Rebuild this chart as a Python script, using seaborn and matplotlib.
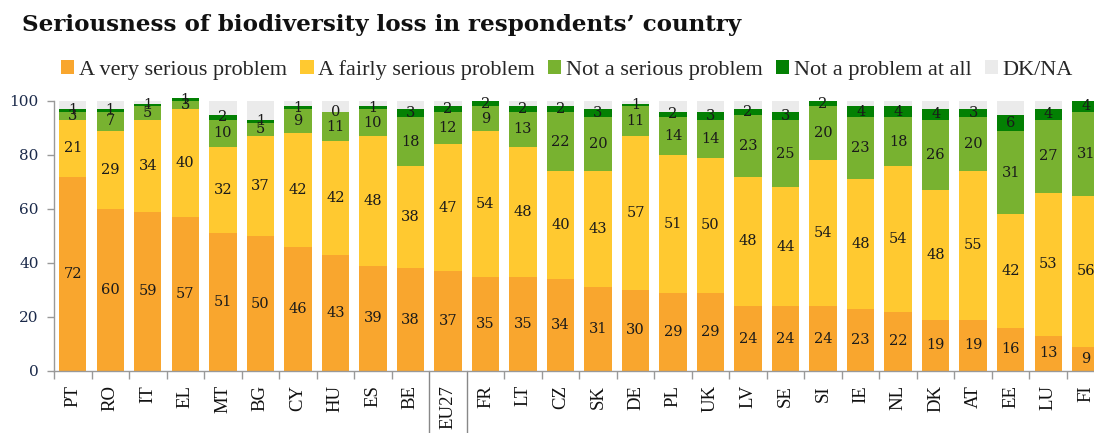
import matplotlib
matplotlib.use("Agg")
import matplotlib.pyplot as plt
from matplotlib.patches import Patch
import matplotlib.transforms as mtransforms
import seaborn as sns

countries = ["PT", "RO", "IT", "EL", "MT", "BG", "CY", "HU", "ES", "BE", "EU27",
             "FR", "LT", "CZ", "SK", "DE", "PL", "UK", "LV", "SE", "SI", "IE",
             "NL", "DK", "AT", "EE", "LU", "FI"]
very_serious = [72, 60, 59, 57, 51, 50, 46, 43, 39, 38, 37, 35, 35, 34, 31, 30,
                29, 29, 24, 24, 24, 23, 22, 19, 19, 16, 13, 9]
fairly_serious = [21, 29, 34, 40, 32, 37, 42, 42, 48, 38, 47, 54, 48, 40, 43, 57,
                  51, 50, 48, 44, 54, 48, 54, 48, 55, 42, 53, 56]
not_serious = [3, 7, 5, 3, 10, 5, 9, 11, 10, 18, 12, 9, 13, 22, 20, 11,
               14, 14, 23, 25, 20, 23, 18, 26, 20, 31, 27, 31]
not_at_all = [1, 1, 1, 1, 2, 1, 1, 0, 1, 3, 2, 2, 2, 2, 3, 1,
              2, 3, 2, 3, 2, 4, 4, 4, 3, 6, 4, 4]
dk_na = [3, 3, 1, 0, 5, 7, 2, 4, 2, 3, 2, 0, 2, 2, 3, 1,
         4, 4, 3, 4, 0, 2, 2, 3, 3, 5, 3, 0]

series_names = ["A very serious problem", "A fairly serious problem",
                "Not a serious problem", "Not a problem at all", "DK/NA"]
series_values = [very_serious, fairly_serious, not_serious, not_at_all, dk_na]
series_colors = ["#F9A62E", "#FFC930", "#78B230", "#038003", "#EBEBEB"]
y_ticks = [0, 20, 40, 60, 80, 100]

sns.set_style("white")
plt.rcParams["font.family"] = ["DejaVu Serif"]

W, H = 1094, 433
fig = plt.figure(figsize=(W / 100, H / 100), dpi=100)
ax = fig.add_axes([54 / W, 1 - 371 / H, 1050.5 / W, 270 / H])

# cumulative tops of each stacked layer
tops = []
running = [0] * len(countries)
for vals in series_values:
    running = [r + v for r, v in zip(running, vals)]
    tops.append(running)

# draw from the tallest stack down so each layer covers the one above it
for top, color in zip(reversed(tops), reversed(series_colors)):
    sns.barplot(x=countries, y=top, color=color, width=0.73, saturation=1,
                errorbar=None, linewidth=0, ax=ax, clip_on=False)

# value labels centred in every segment except DK/NA
for k in range(4):
    for i, v in enumerate(series_values[k]):
        base = tops[k][i] - v
        ax.text(i, base + v / 2, str(v), ha="center", va="center",
                fontsize=10.5, color="#1a1a1a", family="DejaVu Serif")

ax.set_xlim(-0.5, len(countries) - 0.5)
ax.set_ylim(0, 100)
ax.set_yticks(y_ticks)
ax.set_yticklabels([str(t) for t in y_ticks], fontsize=11, color="#1B2A4A")
ax.tick_params(axis="y", length=5, width=1, color="#999999", pad=6, left=True)

ax.set_xticks(range(len(countries)))
ax.set_xticklabels(countries, rotation=90, fontsize=13.5, color="#111111",
                   family="Liberation Serif")
ax.tick_params(axis="x", which="major", length=0, pad=10)
boundaries = [i - 0.5 for i in range(len(countries) + 1) if i not in (10, 11)]
ax.set_xticks(boundaries, minor=True)
ax.tick_params(axis="x", which="minor", length=6, width=1, color="#999999",
               bottom=True)
ax.set_xlabel("")
ax.set_ylabel("")

for side in ("top", "right"):
    ax.spines[side].set_visible(False)
for side in ("left", "bottom"):
    ax.spines[side].set_color("#999999")
    ax.spines[side].set_linewidth(1)

# separators framing the EU27 bar below the axis
trans = mtransforms.blended_transform_factory(ax.transData, ax.transAxes)
for xb in (9.5, 10.5):
    ax.plot([xb, xb], [0, -0.24], transform=trans, color="#888888", lw=1,
            clip_on=False)

fig.text(22 / W, 1 - 25 / H, "Seriousness of biodiversity loss in respondents\u2019 country",
         fontsize=16.6, fontweight="bold", color="#111111", va="center", ha="left",
         family="DejaVu Serif")

handles = [Patch(facecolor=c, edgecolor="none") for c in series_colors]
fig.legend(handles, series_names, loc="center", bbox_to_anchor=(567 / W, 1 - 70 / H),
           ncol=5, frameon=False, handlelength=0.6, handleheight=0.6,
           handletextpad=0.2, columnspacing=0.6,
           prop={"family": "Liberation Serif", "size": 16})

fig.savefig("out.png", dpi=100)
